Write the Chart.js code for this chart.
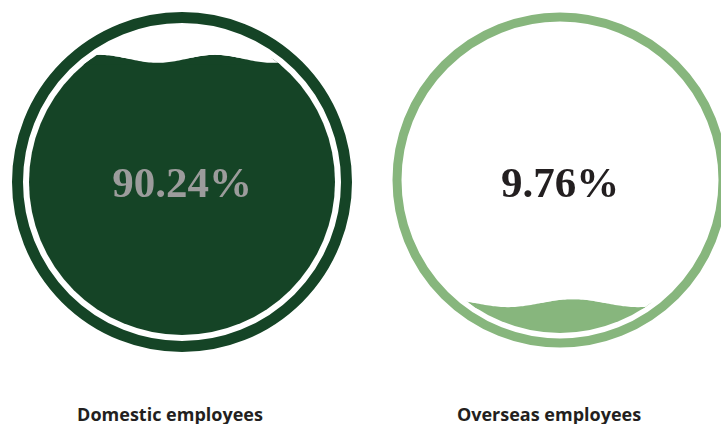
<!DOCTYPE html>
<html>
<head>
<meta charset="utf-8">
<script src="https://cdn.jsdelivr.net/npm/chart.js@4.4.0/dist/chart.umd.min.js"></script>
<style>
  html, body { margin: 0; padding: 0; background: #fff; }
  body { width: 721px; height: 424px; position: relative; overflow: hidden; }
  canvas { position: absolute; }
  #gauge-1 { left: 0; top: 0; }
  #gauge-2 { left: 378px; top: -2px; }
  .label {
    position: absolute; width: 300px; text-align: center;
    font: bold 18px "Open Sans", sans-serif; color: #231f20; line-height: normal;
  }
</style>
</head>
<body>
<canvas id="gauge-1" width="364" height="364"></canvas>
<canvas id="gauge-2" width="364" height="364"></canvas>
<div class="label" id="label-1" style="left:20px; top:402px;"></div>
<div class="label" id="label-2" style="left:399px; top:402px;"></div>
<script>
const categories = ['Domestic employees', 'Overseas employees'];
const shares = [90.24, 9.76];

const gaugeStyles = [
    { canvas: 'gauge-1', color: '#154426', textColor: '#9c9c9c', ringRadius: 164.5, ringWidth: 11,
      fillRadius: 153, waveLen: 115, waveAmp: 4, waveCrest: 100, textY: 197 },
    { canvas: 'gauge-2', color: '#87b67d', textColor: '#231f20', ringRadius: 163, ringWidth: 9,
      fillRadius: 153, waveLen: 130, waveAmp: 4, waveCrest: 195, textY: 199 }
];

// clips the bar to the inner circle, puts a wave on top, then draws ring and value
const liquidPlugin = {
    id: 'liquid',
    beforeDatasetsDraw(chart, args, opts) {
        const ctx = chart.ctx;
        ctx.save();
        ctx.beginPath();
        ctx.arc(chart.width / 2, chart.height / 2, opts.fillRadius, 0, Math.PI * 2);
        ctx.clip();
    },
    afterDatasetsDraw(chart, args, opts) {
        const ctx = chart.ctx;
        const cx = chart.width / 2, cy = chart.height / 2;
        const bar = chart.getDatasetMeta(0).data[0];
        const top = bar.y;
        const left = bar.x - bar.width / 2, right = bar.x + bar.width / 2;
        const wave = x => top - opts.waveAmp * Math.cos(2 * Math.PI * (x - opts.waveCrest) / opts.waveLen);
        const trace = () => {
            ctx.moveTo(left, wave(left));
            for (let x = left; x <= right; x += 2) ctx.lineTo(x, wave(x));
            ctx.lineTo(right, wave(right));
        };
        ctx.beginPath();
        trace();
        ctx.lineTo(right, top + opts.waveAmp + 2);
        ctx.lineTo(left, top + opts.waveAmp + 2);
        ctx.closePath();
        ctx.fillStyle = opts.color;
        ctx.fill();
        ctx.beginPath();
        trace();
        ctx.lineTo(right, top - opts.waveAmp - 2);
        ctx.lineTo(left, top - opts.waveAmp - 2);
        ctx.closePath();
        ctx.fillStyle = '#ffffff';
        ctx.fill();
        ctx.restore();

        ctx.save();
        ctx.beginPath();
        ctx.arc(cx, cy, opts.ringRadius, 0, Math.PI * 2);
        ctx.lineWidth = opts.ringWidth;
        ctx.strokeStyle = opts.color;
        ctx.stroke();
        const value = chart.data.datasets[0].data[0];
        ctx.font = 'bold 43px "Liberation Serif", serif';
        ctx.textAlign = 'center';
        ctx.textBaseline = 'alphabetic';
        ctx.fillStyle = opts.textColor;
        ctx.fillText(value.toFixed(2) + '%', cx, opts.textY);
        ctx.restore();
    }
};

gaugeStyles.forEach((style, i) => {
    document.getElementById('label-' + (i + 1)).textContent = categories[i];
    new Chart(document.getElementById(style.canvas), {
        type: 'bar',
        data: {
            labels: [categories[i]],
            datasets: [{
                data: [shares[i]],
                backgroundColor: style.color,
                borderWidth: 0,
                barPercentage: 1,
                categoryPercentage: 1
            }]
        },
        options: {
            responsive: false,
            animation: false,
            layout: { padding: 182 - style.fillRadius },
            scales: {
                x: { display: false },
                y: { display: false, min: 0, max: 100 }
            },
            plugins: {
                legend: { display: false },
                tooltip: { enabled: false },
                liquid: style
            }
        },
        plugins: [liquidPlugin]
    });
});
</script>
</body>
</html>
